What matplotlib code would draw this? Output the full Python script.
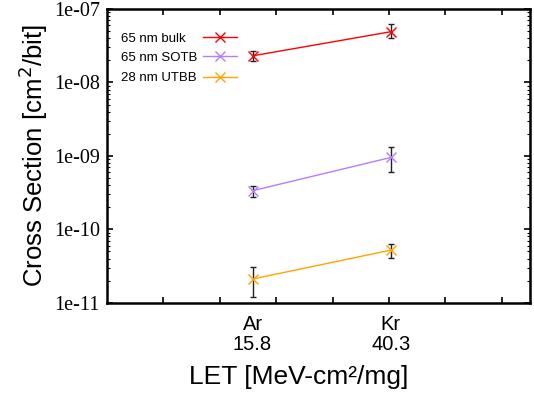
import numpy as np
import matplotlib
matplotlib.use('Agg')
import matplotlib.pyplot as plt
from matplotlib.ticker import FixedLocator, LogLocator, NullFormatter

# data
let = [15.8, 40.3]
ions = ['Ar', 'Kr']
series = ['65 nm bulk', '65 nm SOTB', '28 nm UTBB']
colors = ['#ff0000', '#b77cff', '#ffa500']
xs_bulk = [2.3e-8, 4.9e-8]
xs_bulk_lo = [1.98e-8, 3.97e-8]
xs_bulk_hi = [2.72e-8, 6.24e-8]
xs_sotb = [3.35e-10, 9.5e-10]
xs_sotb_lo = [2.77e-10, 5.98e-10]
xs_sotb_hi = [3.85e-10, 1.30e-9]
xs_utbb = [2.1e-11, 5.2e-11]
xs_utbb_lo = [1.18e-11, 4.09e-11]
xs_utbb_hi = [3.04e-11, 6.24e-11]

vals = [xs_bulk, xs_sotb, xs_utbb]
los = [xs_bulk_lo, xs_sotb_lo, xs_utbb_lo]
his = [xs_bulk_hi, xs_sotb_hi, xs_utbb_hi]

fig = plt.figure(figsize=(5.34, 3.98), dpi=100)
ax = fig.add_axes([0.2004, 0.2394, 0.7921, 0.738])

for name, c, v, lo, hi in zip(series, colors, vals, los, his):
    v = np.array(v); lo = np.array(lo); hi = np.array(hi)
    ax.errorbar(let, v, yerr=[v - lo, hi - v], fmt='none', ecolor='#222222',
                elinewidth=1, capsize=2, capthick=1, zorder=2)
    ax.plot(let, v, color=c, lw=1, marker='x', ms=7, mew=1, zorder=3)

# gnuplot-style key: text left, sample on the right
key_y = [0.905, 0.840, 0.770]
for name, c, ky in zip(series, colors, key_y):
    ax.text(0.033, ky - 0.006, name, transform=ax.transAxes, ha='left',
            va='center', family='Liberation Sans', fontsize=9.5)
    ax.plot([0.227, 0.307], [ky, ky], transform=ax.transAxes, color=c, lw=1)
    ax.plot([0.267], [ky], transform=ax.transAxes, color=c, marker='x',
            ms=7, mew=1)

ax.set_yscale('log')
ax.set_ylim(1e-11, 1e-7)
ax.set_xlim(-10, 65)

# y ticks
ax.yaxis.set_major_locator(FixedLocator([1e-11, 1e-10, 1e-9, 1e-8, 1e-7]))
ax.set_yticklabels(['1e-11', '1e-10', '1e-09', '1e-08', '1e-07'],
                   family='Liberation Serif', fontsize=14.5)
ax.yaxis.set_minor_locator(LogLocator(base=10, subs=np.arange(2, 10)))
ax.yaxis.set_minor_formatter(NullFormatter())

# x ticks: plain marks every 10, labels at ion LET
ax.set_xticks(np.arange(0, 61, 10))
ax.set_xticklabels([''] * 7)
ax.set_xticks(let, minor=True)
ax.set_xticklabels([f'{i}\n{l}' for i, l in zip(ions, let)], minor=True,
                   family='Liberation Sans', fontsize=14.5, linespacing=1.05)
ax.tick_params(axis='x', which='minor', length=0, pad=9)
ax.tick_params(axis='both', which='major', direction='in', length=4, width=1.2,
               top=True, right=True)
ax.tick_params(axis='y', which='minor', direction='in', length=2, width=0.8,
               right=True)
ax.tick_params(axis='y', which='major', pad=5)

for s in ax.spines.values():
    s.set_linewidth(1.8)

ax.set_ylabel('Cross Section [cm$^2$/bit]', family='Liberation Sans',
              fontsize=18.5, labelpad=3)
ax.set_xlabel('LET [MeV-cm²/mg]', family='Liberation Sans', fontsize=19)
ax.xaxis.set_label_coords(0.454, -0.212)

fig.savefig('out.png', dpi=100)
